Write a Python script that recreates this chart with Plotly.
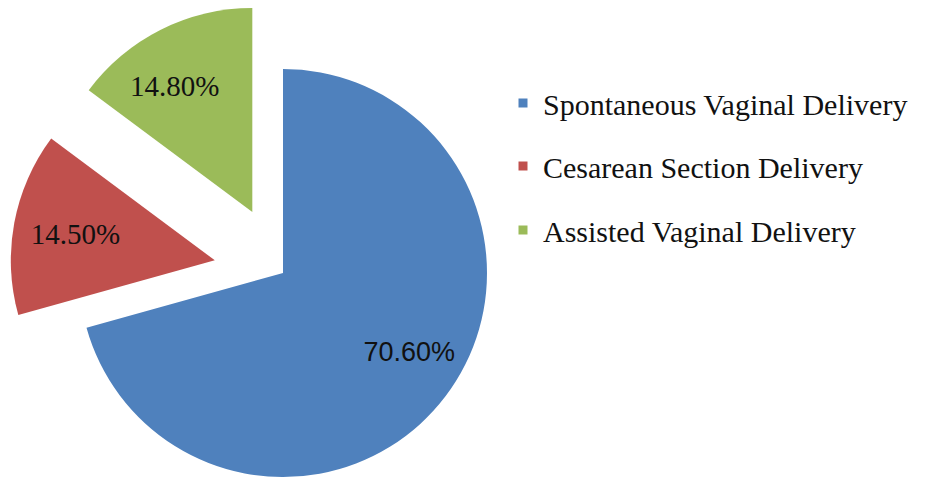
import numpy as np
import plotly.graph_objects as go

# ---- data ----
labels = ["Spontaneous Vaginal Delivery", "Cesarean Section Delivery", "Assisted Vaginal Delivery"]
values = [70.6, 14.5, 14.8]
text_labels = ["70.60%", "14.50%", "14.80%"]
colors = ["#4F81BD", "#C0504D", "#9BBB59"]
pulls = [0.0, 0.34, 0.335]

# ---- layout geometry (figure pixels; the page adds an 8px body margin) ----
W, H = 917, 472
cx, cy, R = 275, 265, 204
label_fonts = ["Liberation Sans", "Liberation Serif", "Liberation Serif"]
label_sizes = [27, 29, 29]
# nudge of each label inside its slice (non-breaking-space padding / blank line)
label_pad_left = [12, 0, 0]
label_pad_right = [0, 0, 4]
label_blank_line = [True, False, False]
legend_y = [95, 158, 222]
legend_x = 495

total = sum(values)
fig = go.Figure()
start = 0.0
for i, v in enumerate(values):
    mid = (start + v / 2) / total * 2 * np.pi
    start += v
    px = cx + pulls[i] * R * np.sin(mid)
    py = cy - pulls[i] * R * np.cos(mid)
    slice_colors = ["rgba(0,0,0,0)"] * len(values)
    slice_colors[i] = colors[i]
    txt = [""] * len(values)
    body = "&nbsp;" * label_pad_left[i] + text_labels[i] + "&nbsp;" * label_pad_right[i]
    if label_blank_line[i]:
        body = "&nbsp;<br>" + body
    txt[i] = body
    font = dict(family=label_fonts[i], size=label_sizes[i], color="#111111")
    dy0 = max(0.0, 1 - (py + R) / H)
    dy1 = min(1.0, 1 - (py - R) / H)
    fig.add_trace(go.Pie(
        labels=labels, values=values, sort=False, direction="clockwise", rotation=0,
        marker=dict(colors=slice_colors, line=dict(width=0)),
        text=txt, textinfo="text", textposition="inside",
        insidetextorientation="horizontal",
        textfont=font, insidetextfont=font,
        domain=dict(x=[(px - R) / W, (px + R) / W], y=[dy0, dy1]),
        showlegend=False, hoverinfo="skip",
    ))

legend_names = ["legend", "legend2", "legend3"]
for i, lab in enumerate(labels):
    fig.add_trace(go.Scatter(
        x=[None], y=[None], mode="markers", name=lab,
        marker=dict(symbol="square", size=9, color=colors[i]),
        legend=legend_names[i], showlegend=True,
    ))

legend_common = dict(font=dict(family="Liberation Serif", size=30, color="#111111"),
                     xanchor="left", yanchor="middle", bgcolor="rgba(0,0,0,0)",
                     borderwidth=0)
layout_legends = {}
for i, ln in enumerate(legend_names):
    layout_legends[ln] = dict(x=legend_x / W, y=1 - legend_y[i] / H, **legend_common)

fig.update_layout(
    width=W, height=H, margin=dict(l=0, r=0, t=0, b=0),
    font=dict(family="Liberation Serif", color="#111111"),
    paper_bgcolor="white", plot_bgcolor="white",
    xaxis=dict(visible=False), yaxis=dict(visible=False),
    **layout_legends,
)
fig.write_html("out.html")
